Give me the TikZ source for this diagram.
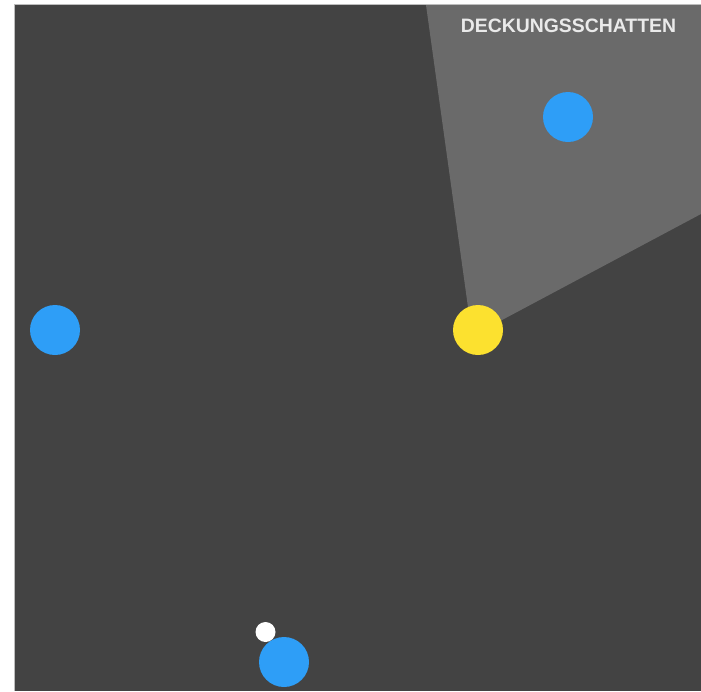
\documentclass[tikz,border=0pt]{standalone}
\usepackage{fontspec}
\setmainfont{Liberation Sans}
\definecolor{bgdark}{HTML}{434343}
\definecolor{covergray}{HTML}{6A6A6A}
\definecolor{edgegray}{HTML}{BDBDBD}
\definecolor{dotblue}{HTML}{2E9EF7}
\definecolor{dotyellow}{HTML}{FCE12F}
\definecolor{labelgray}{HTML}{EAEAEA}
\tikzset{
  dot/.style={circle, inner sep=0pt, minimum size=50pt, draw=none},
  enemy/.style={dot, fill=dotblue},
  player/.style={dot, fill=dotyellow},
  marker/.style={circle, inner sep=0pt, minimum size=20pt, fill=white, draw=none},
  title/.style={font=\bfseries\fontsize{19.4}{22}\selectfont, text=labelgray, inner sep=0pt}
}
\begin{document}
\begin{tikzpicture}[x=1pt,y=-1pt]
\useasboundingbox (0,0) rectangle (701,691);
\fill[white] (0,0) rectangle (701,691);
\fill[edgegray] (14,4) rectangle (701,691);
\fill[bgdark] (15,5) rectangle (701,691);
% cover shadow
\fill[fill=covergray] (472,336) -- (426,5) -- (701,5) -- (701,214) -- cycle;
\node[title] (label) at (568.5,26) {DECKUNGSSCHATTEN};
\node[enemy] (e1) at (568,117) {};
\node[enemy] (e2) at (55,330) {};
\node[enemy] (e3) at (284,662) {};
\node[player] (p) at (478,330) {};
\node[marker] (m) at (265.5,632) {};
\end{tikzpicture}
\end{document}
